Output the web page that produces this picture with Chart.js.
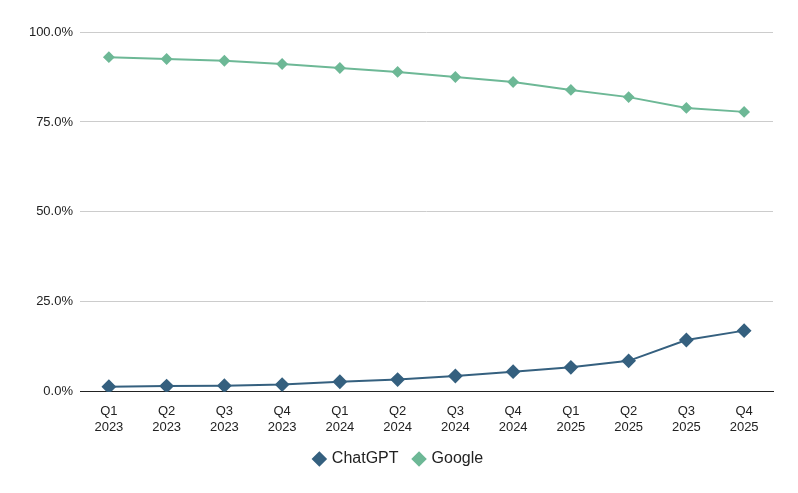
<!DOCTYPE html>
<html lang="en">
<head>
    <meta charset="UTF-8">
    <title>ChatGPT vs Google</title>
    <script src="https://cdn.jsdelivr.net/npm/chart.js"></script>
    <style>
        body { margin: 0; background: #ffffff; }
        #wrap { width: 798px; height: 493px; }
    </style>
</head>
<body>
    <div id="wrap"><canvas id="shareChart" width="798" height="493"></canvas></div>

    <script>
        // quarters on the x axis
        const quarters = ['Q1', 'Q2', 'Q3', 'Q4', 'Q1', 'Q2', 'Q3', 'Q4', 'Q1', 'Q2', 'Q3', 'Q4'];
        const years = ['2023', '2023', '2023', '2023', '2024', '2024', '2024', '2024', '2025', '2025', '2025', '2025'];

        // share values in percent
        const chatgpt = [1.4, 1.6, 1.7, 2.0, 2.8, 3.4, 4.4, 5.6, 6.8, 8.6, 14.4, 17.0];
        const google = [93.0, 92.5, 92.0, 91.1, 90.0, 88.9, 87.5, 86.1, 83.9, 81.9, 78.9, 77.8];

        const yTicks = [0, 25, 50, 75, 100];

        Chart.defaults.font.family = '"Liberation Sans", Arial, sans-serif';
        Chart.defaults.color = '#222';

        const ctx = document.getElementById('shareChart').getContext('2d');
        new Chart(ctx, {
            type: 'line',
            data: {
                labels: quarters.map((q, i) => [q, years[i]]),
                datasets: [{
                    label: 'ChatGPT',
                    data: chatgpt,
                    borderColor: '#35607f',
                    backgroundColor: '#35607f',
                    borderWidth: 2,
                    pointStyle: 'rectRot',
                    pointRadius: 6,
                    tension: 0
                }, {
                    label: 'Google',
                    data: google,
                    borderColor: '#6db896',
                    backgroundColor: '#6db896',
                    borderWidth: 2,
                    pointStyle: 'rectRot',
                    pointRadius: 4.5,
                    tension: 0
                }]
            },
            options: {
                responsive: false,
                animation: false,
                layout: { padding: { top: 32, right: 0, left: 0, bottom: 16 } },
                plugins: {
                    legend: {
                        position: 'bottom',
                        labels: {
                            usePointStyle: true,
                            pointStyle: 'rectRot',
                            boxWidth: 9,
                            boxHeight: 9,
                            padding: 16,
                            font: { size: 16 },
                            color: '#222'
                        }
                    },
                    tooltip: { enabled: false }
                },
                scales: {
                    x: {
                        offset: true,
                        afterFit: (axis) => { axis.height -= 12; },
                        grid: { display: false, drawTicks: false },
                        border: { color: '#222', width: 1 },
                        ticks: { font: { size: 13 }, padding: 12, maxRotation: 0 }
                    },
                    y: {
                        min: 0,
                        max: 100,
                        afterFit: (axis) => { axis.width = 80; },
                        afterBuildTicks: (axis) => { axis.ticks = yTicks.map(v => ({ value: v })); },
                        grid: { color: '#cccccc', drawTicks: false },
                        border: { display: false },
                        ticks: {
                            font: { size: 13 },
                            padding: 7,
                            callback: (v) => v.toFixed(1) + '%'
                        }
                    },
                    // empty right axis, only keeps the right margin so the legend stays centred on the page
                    yRight: {
                        position: 'right',
                        afterFit: (axis) => { axis.width = 25; },
                        grid: { display: false, drawTicks: false },
                        border: { display: false },
                        ticks: { display: false }
                    }
                }
            }
        });
    </script>
</body>
</html>
